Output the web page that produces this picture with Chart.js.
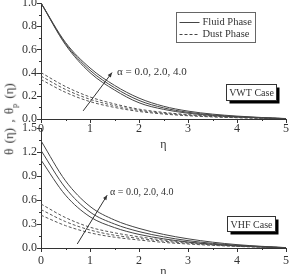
<!DOCTYPE html>
<html>
<head>
<meta charset="utf-8">
<script src="https://cdn.jsdelivr.net/npm/chart.js@4.4.1/dist/chart.umd.min.js"></script>
<style>
  html, body { margin: 0; padding: 0; background: #fff; width: 290px; height: 274px; overflow: hidden; position: relative; }
  canvas { position: absolute; left: 0; }
  #vwt { top: 0; }
  #vhf { top: 120px; }
  #ylab { position: absolute; left: 10px; top: 119px; transform: translate(-50%, -50%) rotate(-90deg);
          font: 13px "Liberation Serif", serif; color: #333; white-space: nowrap; word-spacing: 2px; }
  #ylab sub { font-size: 8px; }
</style>
</head>
<body>
<canvas id="vhf" width="290" height="159"></canvas>
<canvas id="vwt" width="290" height="152"></canvas>
<div id="ylab">&theta; (&eta;) , &theta;<sub>p</sub> (&eta;)</div>
<script>
// similarity variable
const eta = [0, 0.5, 1, 1.5, 2, 2.5, 3, 3.5, 4, 4.5, 5];

// VWT case, alpha = 0.0, 2.0, 4.0
const vwtFluid = [
  [1.00, 0.66, 0.44, 0.29, 0.18, 0.110, 0.068, 0.042, 0.025, 0.013, 0.004],
  [1.00, 0.65, 0.42, 0.27, 0.16, 0.096, 0.058, 0.035, 0.021, 0.011, 0.003],
  [1.00, 0.64, 0.40, 0.25, 0.14, 0.083, 0.050, 0.030, 0.018, 0.009, 0.003]
];
const vwtDust = [
  [0.40, 0.28, 0.19, 0.13, 0.085, 0.057, 0.038, 0.025, 0.016, 0.009, 0.003],
  [0.37, 0.255, 0.17, 0.115, 0.075, 0.050, 0.033, 0.021, 0.013, 0.007, 0.003],
  [0.34, 0.23, 0.15, 0.10, 0.065, 0.043, 0.028, 0.018, 0.011, 0.006, 0.002]
];

// VHF case, alpha = 0.0, 2.0, 4.0
const vhfFluid = [
  [1.34, 0.84, 0.52, 0.35, 0.245, 0.170, 0.115, 0.073, 0.042, 0.021, 0.005],
  [1.22, 0.75, 0.45, 0.30, 0.205, 0.140, 0.092, 0.058, 0.034, 0.017, 0.004],
  [1.10, 0.66, 0.39, 0.255, 0.17, 0.115, 0.075, 0.047, 0.027, 0.013, 0.003]
];
const vhfDust = [
  [0.55, 0.38, 0.26, 0.19, 0.14, 0.100, 0.070, 0.045, 0.027, 0.014, 0.004],
  [0.48, 0.33, 0.225, 0.16, 0.12, 0.085, 0.060, 0.039, 0.023, 0.012, 0.004],
  [0.41, 0.28, 0.19, 0.135, 0.10, 0.070, 0.050, 0.033, 0.020, 0.010, 0.003]
];

const alphaText = "\u03b1 = 0.0, 2.0, 4.0";
const legendNames = ["Fluid Phase", "Dust Phase"];

const SERIF = '"Liberation Serif", "Times New Roman", serif';
const INK = "#333";

function lineSet(rows, dashed) {
  return rows.map(r => ({
    data: r.map((v, i) => ({ x: eta[i], y: v })),
    borderColor: dashed ? "#555" : "#444",
    borderWidth: 1,
    borderDash: dashed ? [3, 2] : [],
    pointRadius: 0,
    fill: false,
    cubicInterpolationMode: "monotone"
  }));
}

// outward major + minor tick marks
const tickMarks = {
  id: "tickMarks",
  afterDraw(chart, args, opts) {
    const { ctx, chartArea: a } = chart;
    const xs = chart.scales.x, ys = chart.scales.y;
    ctx.save();
    ctx.strokeStyle = INK;
    ctx.lineWidth = 1;
    ctx.beginPath();
    const nx = Math.round((xs.max - xs.min) / (opts.xStep / 2));
    for (let k = 0; k <= nx; k++) {
      const px = Math.round(xs.getPixelForValue(xs.min + k * opts.xStep / 2)) + 0.5;
      ctx.moveTo(px, a.bottom);
      ctx.lineTo(px, a.bottom + (k % 2 ? 2 : 4));
    }
    const ny = Math.round((ys.max - ys.min) / (opts.yStep / 2));
    for (let k = 0; k <= ny; k++) {
      const py = Math.round(ys.getPixelForValue(ys.min + k * opts.yStep / 2)) + 0.5;
      ctx.moveTo(a.left, py);
      ctx.lineTo(a.left - (k % 2 ? 2 : 4), py);
    }
    ctx.stroke();
    ctx.restore();
  }
};

// legend, alpha arrow and the case label
const notes = {
  id: "notes",
  afterDraw(chart, args, o) {
    const { ctx } = chart;
    const xs = chart.scales.x, ys = chart.scales.y;
    const X = v => xs.getPixelForValue(v), Y = v => ys.getPixelForValue(v);
    ctx.save();
    ctx.fillStyle = INK;
    ctx.strokeStyle = INK;
    ctx.lineWidth = 1;

    // arrow
    const x0 = X(o.arrow[0]), y0 = Y(o.arrow[1]), x1 = X(o.arrow[2]), y1 = Y(o.arrow[3]);
    ctx.beginPath();
    ctx.moveTo(x0, y0);
    ctx.lineTo(x1, y1);
    ctx.stroke();
    const ang = Math.atan2(y1 - y0, x1 - x0);
    ctx.beginPath();
    ctx.moveTo(x1, y1);
    ctx.lineTo(x1 - 5 * Math.cos(ang - 0.4), y1 - 5 * Math.sin(ang - 0.4));
    ctx.lineTo(x1 - 5 * Math.cos(ang + 0.4), y1 - 5 * Math.sin(ang + 0.4));
    ctx.closePath();
    ctx.fill();

    // alpha text
    ctx.font = o.alphaSize + "px " + SERIF;
    ctx.textBaseline = "middle";
    ctx.textAlign = "left";
    ctx.fillText(alphaText, X(o.alphaAt[0]), Y(o.alphaAt[1]));

    // case box with drop shadow
    const bx = Math.round(X(o.caseAt[0])) + 0.5, by = Math.round(Y(o.caseAt[1])) + 0.5;
    const bw = o.caseSize[0], bh = o.caseSize[1];
    ctx.fillStyle = "#000";
    ctx.fillRect(bx + 3, by + 3, bw, bh);
    ctx.fillStyle = "#fff";
    ctx.fillRect(bx, by, bw, bh);
    ctx.strokeRect(bx, by, bw, bh);
    ctx.fillStyle = INK;
    ctx.font = "10px " + SERIF;
    ctx.textAlign = "center";
    ctx.fillText(o.caseText, bx + bw / 2, by + bh / 2 + 1);

    // legend
    if (o.legendAt) {
      const lx = Math.round(X(o.legendAt[0])) + 0.5, ly = Math.round(Y(o.legendAt[1])) + 0.5;
      ctx.strokeStyle = "#666";
      ctx.strokeRect(lx, ly, 79, 30);
      ctx.font = "10.5px " + SERIF;
      ctx.textAlign = "left";
      legendNames.forEach((name, i) => {
        const yy = ly + 9 + i * 12;
        ctx.strokeStyle = "#444";
        ctx.setLineDash(i ? [3, 2] : []);
        ctx.beginPath();
        ctx.moveTo(lx + 3, Math.round(yy) + 0.5);
        ctx.lineTo(lx + 23, Math.round(yy) + 0.5);
        ctx.stroke();
        ctx.fillText(name, lx + 26, yy + 1);
      });
      ctx.setLineDash([]);
    }
    ctx.restore();
  }
};

function makeChart(id, fluid, dust, yMax, yStep, cfg) {
  return new Chart(document.getElementById(id), {
    type: "line",
    data: { datasets: [...lineSet(fluid, false), ...lineSet(dust, true)] },
    options: {
      responsive: false,
      animation: false,
      events: [],
      layout: { padding: { top: cfg.padTop, right: 4, bottom: 0, left: 0 } },
      plugins: {
        legend: { display: false },
        tooltip: { enabled: false },
        tickMarks: { xStep: 1, yStep: yStep },
        notes: cfg.notes
      },
      scales: {
        x: {
          type: "linear",
          min: 0, max: 5,
          grid: { display: false, drawTicks: false },
          border: { display: true, color: INK, width: 1 },
          ticks: { stepSize: 1, padding: cfg.xPad, color: INK, font: { family: SERIF, size: 12 }, maxRotation: 0 },
          title: { display: true, text: "\u03b7", color: INK, font: { family: SERIF, size: 12 }, padding: 0 },
          afterFit: s => { s.height = cfg.xHeight; s.paddingLeft = 0; s.paddingRight = 0; }
        },
        y: {
          min: 0, max: yMax,
          grid: { display: false, drawTicks: false },
          border: { display: true, color: INK, width: 1 },
          ticks: { stepSize: yStep, padding: 4, color: INK, font: { family: SERIF, size: 12 },
                   callback: v => Number(v).toFixed(1) },
          afterFit: s => { s.width = 41; s.paddingTop = 0; s.paddingBottom = 0; }
        }
      }
    },
    plugins: [tickMarks, notes]
  });
}

makeChart("vwt", vwtFluid, vwtDust, 1.0, 0.2, {
  padTop: 3, xHeight: 33, xPad: 3,
  notes: {
    arrow: [0.86, 0.07, 1.45, 0.40],
    alphaAt: [1.55, 0.40], alphaSize: 11,
    caseAt: [3.78, 0.30], caseSize: [50, 16], caseText: "VWT Case",
    legendAt: [2.755, 0.925]
  }
});

makeChart("vhf", vhfFluid, vhfDust, 1.5, 0.3, {
  padTop: 8, xHeight: 31, xPad: 6,
  notes: {
    arrow: [0.74, 0.05, 1.35, 0.66],
    alphaAt: [1.41, 0.69], alphaSize: 10,
    caseAt: [3.80, 0.40], caseSize: [48, 15], caseText: "VHF Case",
    legendAt: null
  }
});
</script>
</body>
</html>
